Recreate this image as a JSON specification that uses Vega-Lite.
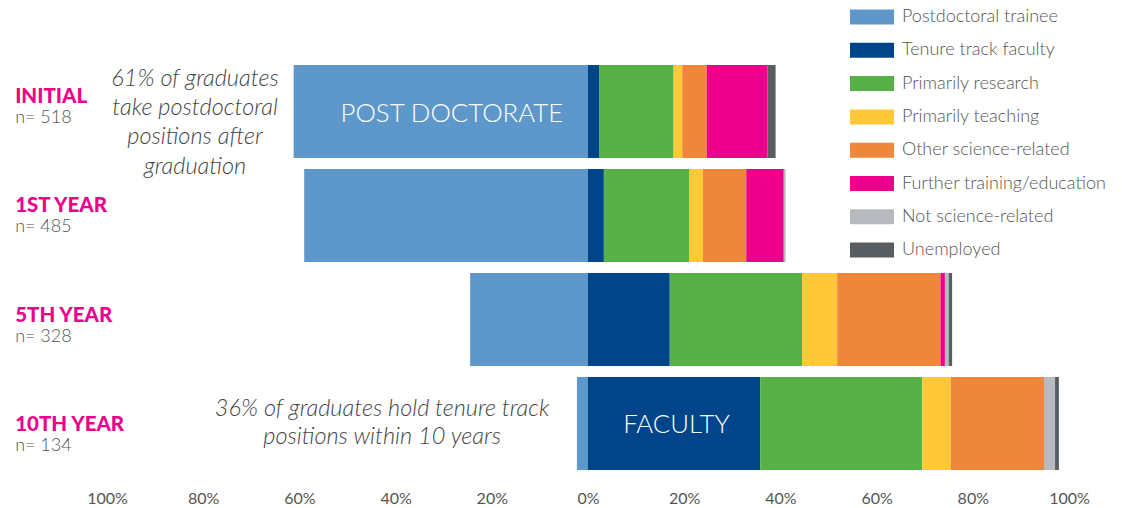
{
  "$schema": "https://vega.github.io/schema/vega-lite/v6.json",
  "width": 962,
  "height": 415,
  "autosize": {"type": "none"},
  "padding": {"left": 107, "top": 60, "right": 53, "bottom": 33},
  "config": {"view": {"stroke": null}, "font": "Lato"},
  "layer": [
    {
      "layer": [
        {
          "data": {
            "values": [
              {"row": "INITIAL", "cat": "Postdoctoral trainee", "pct": -61.2, "ord": 0},
              {"row": "INITIAL", "cat": "Tenure track faculty", "pct": 2.4, "ord": 1},
              {"row": "INITIAL", "cat": "Primarily research", "pct": 15.4, "ord": 2},
              {"row": "INITIAL", "cat": "Primarily teaching", "pct": 1.8, "ord": 3},
              {"row": "INITIAL", "cat": "Other science-related", "pct": 5.1, "ord": 4},
              {"row": "INITIAL", "cat": "Further training/education", "pct": 12.6, "ord": 5},
              {"row": "INITIAL", "cat": "Unemployed", "pct": 1.7, "ord": 7},
              {"row": "1ST YEAR", "cat": "Postdoctoral trainee", "pct": -59.0, "ord": 0},
              {"row": "1ST YEAR", "cat": "Tenure track faculty", "pct": 3.3, "ord": 1},
              {"row": "1ST YEAR", "cat": "Primarily research", "pct": 17.7, "ord": 2},
              {"row": "1ST YEAR", "cat": "Primarily teaching", "pct": 2.9, "ord": 3},
              {"row": "1ST YEAR", "cat": "Other science-related", "pct": 9.0, "ord": 4},
              {"row": "1ST YEAR", "cat": "Further training/education", "pct": 7.8, "ord": 5},
              {"row": "1ST YEAR", "cat": "Not science-related", "pct": 0.4, "ord": 6},
              {"row": "5TH YEAR", "cat": "Postdoctoral trainee", "pct": -24.5, "ord": 0},
              {"row": "5TH YEAR", "cat": "Tenure track faculty", "pct": 17.0, "ord": 1},
              {"row": "5TH YEAR", "cat": "Primarily research", "pct": 27.5, "ord": 2},
              {"row": "5TH YEAR", "cat": "Primarily teaching", "pct": 7.3, "ord": 3},
              {"row": "5TH YEAR", "cat": "Other science-related", "pct": 21.5, "ord": 4},
              {"row": "5TH YEAR", "cat": "Further training/education", "pct": 0.9, "ord": 5},
              {"row": "5TH YEAR", "cat": "Not science-related", "pct": 0.8, "ord": 6},
              {"row": "5TH YEAR", "cat": "Unemployed", "pct": 0.7, "ord": 7},
              {"row": "10TH YEAR", "cat": "Postdoctoral trainee", "pct": -2.3, "ord": 0},
              {"row": "10TH YEAR", "cat": "Tenure track faculty", "pct": 35.8, "ord": 1},
              {"row": "10TH YEAR", "cat": "Primarily research", "pct": 33.7, "ord": 2},
              {"row": "10TH YEAR", "cat": "Primarily teaching", "pct": 5.9, "ord": 3},
              {"row": "10TH YEAR", "cat": "Other science-related", "pct": 19.4, "ord": 4},
              {"row": "10TH YEAR", "cat": "Not science-related", "pct": 2.3, "ord": 6},
              {"row": "10TH YEAR", "cat": "Unemployed", "pct": 0.8, "ord": 7}
            ]
          },
          "mark": {"type": "bar"},
          "encoding": {
            "y": {
              "field": "row",
              "type": "nominal",
              "scale": {
                "domain": ["INITIAL", "1ST YEAR", "5TH YEAR", "10TH YEAR"],
                "paddingInner": 0.106,
                "paddingOuter": 0.048
              },
              "axis": null
            },
            "x": {
              "field": "pct",
              "type": "quantitative",
              "stack": "zero",
              "scale": {"domain": [-100, 100], "nice": false},
              "axis": {
                "values": [-100, -80, -60, -40, -20, 0, 20, 40, 60, 80, 100],
                "labelExpr": "abs(datum.value) + '%'",
                "labelFlush": false,
                "title": null,
                "grid": false,
                "domain": false,
                "ticks": false,
                "labelFont": "Lato",
                "labelFontSize": 16,
                "labelColor": "#555555",
                "labelPadding": 15
              }
            },
            "color": {
              "field": "cat",
              "type": "nominal",
              "scale": {
                "domain": ["Postdoctoral trainee", "Tenure track faculty", "Primarily research", "Primarily teaching", "Other science-related", "Further training/education", "Not science-related", "Unemployed"],
                "range": ["#5E98CA", "#00448A", "#57B147", "#FFC838", "#EE863C", "#EC008C", "#B7BABF", "#575D61"]
              },
              "legend": {
                "title": null,
                "orient": "none",
                "legendX": 754,
                "legendY": -54,
                "padding": 0,
                "symbolType": "M-2,-0.68H2V0.68H-2Z",
                "symbolSize": 484,
                "symbolStrokeWidth": 0,
                "symbolOpacity": 1,
                "labelFont": "Lato",
                "labelFontSize": 18,
                "labelFontWeight": 300,
                "labelColor": "#555555",
                "labelOffset": 19,
                "labelLimit": 300,
                "rowPadding": 13.3
              }
            },
            "order": {"field": "ord", "type": "quantitative"}
          }
        },
        {
          "data": {"values": [{"t": "POST DOCTORATE"}]},
          "mark": {"type": "text", "color": "white", "font": "Lato", "fontSize": 25.8, "fontWeight": 300, "align": "center", "baseline": "middle", "dy": 3},
          "encoding": {
            "x": {"datum": -28.3},
            "y": {"datum": "INITIAL"},
            "text": {"field": "t"}
          }
        },
        {
          "data": {"values": [{"t": "FACULTY"}]},
          "mark": {"type": "text", "color": "white", "font": "Lato", "fontSize": 25.8, "fontWeight": 300, "align": "center", "baseline": "middle", "dy": 1},
          "encoding": {
            "x": {"datum": 18.4},
            "y": {"datum": "10TH YEAR"},
            "text": {"field": "t"}
          }
        },
        {
          "data": {"values": [{"t": "61% of graduates\ntake postdoctoral\npositions after\ngraduation"}]},
          "mark": {"type": "text", "color": "#444444", "font": "Lato", "fontSize": 23.5, "fontStyle": "italic", "fontWeight": 300, "lineBreak": "\n", "lineHeight": 29.2, "align": "center", "baseline": "middle", "dy": -32.5},
          "encoding": {
            "x": {"datum": -81.7},
            "y": {"datum": "INITIAL"},
            "text": {"field": "t"}
          }
        },
        {
          "data": {"values": [{"t": "36% of graduates hold tenure track\npositions within 10 years"}]},
          "mark": {"type": "text", "color": "#444444", "font": "Lato", "fontSize": 23.5, "fontStyle": "italic", "fontWeight": 300, "lineBreak": "\n", "lineHeight": 28, "align": "center", "baseline": "middle", "dy": -14.5},
          "encoding": {
            "x": {"datum": -42.8},
            "y": {"datum": "10TH YEAR"},
            "text": {"field": "t"}
          }
        }
      ]
    },
    {
      "data": {
        "values": [
          {"row": "INITIAL", "n": "n= 518"},
          {"row": "1ST YEAR", "n": "n= 485"},
          {"row": "5TH YEAR", "n": "n= 328"},
          {"row": "10TH YEAR", "n": "n= 134"}
        ]
      },
      "layer": [
        {
          "mark": {"type": "text", "color": "#EC008C", "font": "Lato", "fontSize": 20.5, "fontWeight": 900, "align": "left", "baseline": "middle", "dy": -6.5},
          "encoding": {
            "x": {"datum": -119.1},
            "y": {"field": "row", "type": "nominal", "scale": {"type": "point", "domain": ["INITIAL", "1ST YEAR", "5TH YEAR", "10TH YEAR"], "padding": 0.4}, "axis": null},
            "text": {"field": "row"}
          }
        },
        {
          "mark": {"type": "text", "color": "#555555", "font": "Lato", "fontSize": 18, "fontWeight": 300, "align": "left", "baseline": "middle", "dy": 14.5},
          "encoding": {
            "x": {"datum": -119.1},
            "y": {"field": "row", "type": "nominal", "scale": {"type": "point", "domain": ["INITIAL", "1ST YEAR", "5TH YEAR", "10TH YEAR"], "padding": 0.4}, "axis": null},
            "text": {"field": "n"}
          }
        }
      ]
    }
  ],
  "resolve": {"scale": {"y": "independent"}}
}
